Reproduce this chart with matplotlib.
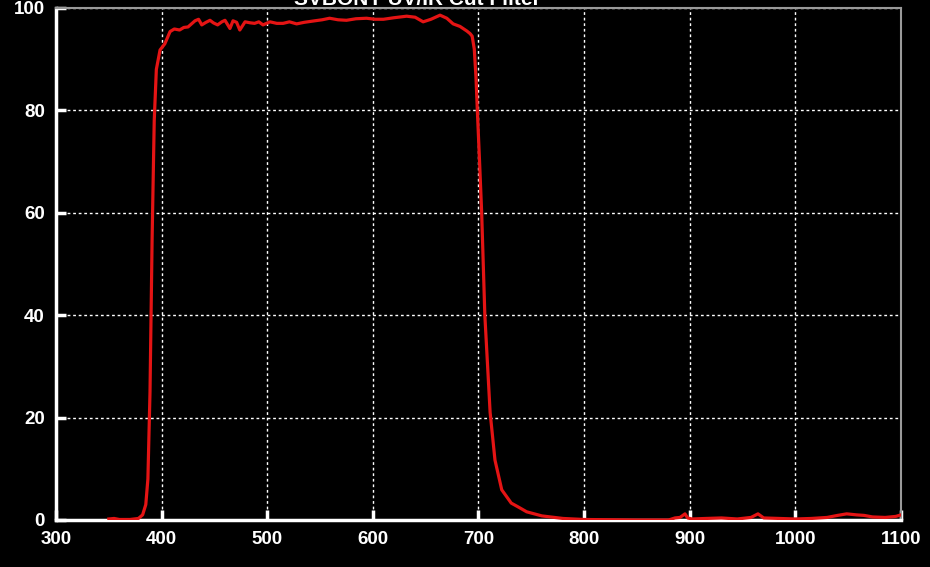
import numpy as np
import matplotlib.pyplot as plt

# =========================
# DATEN
# =========================
wellenlaenge = [350, 355, 360, 370, 378, 382, 385, 387, 389, 391, 393, 395, 398.5,
                403, 408, 412, 417, 421, 425, 431.6, 435, 438, 442, 445.8, 449, 453,
                457, 460, 464.7, 467.6, 471, 474, 479, 484, 488, 492, 496, 502.6,
                509, 515, 521, 527.8, 535, 545, 552, 559, 567, 575, 584, 594, 602,
                610, 620, 632, 640, 647.6, 655, 663.6, 670, 676, 682.5, 689, 692,
                694, 696, 697.6, 698.9, 701, 703, 706, 711, 715.6, 722, 731, 738,
                745.6, 760, 780, 800, 850, 880, 886, 890.8, 895.5, 898, 902, 915,
                930, 945, 958, 964.6, 970, 985, 1000, 1015, 1030, 1040, 1048.6,
                1058, 1065, 1073, 1085, 1095, 1100]
transmission = [0.2, 0.3, 0.1, 0.1, 0.3, 1.0, 3.0, 8.0, 25.0, 55.0, 78.0, 88.0, 91.8,
                93.0, 95.4, 95.9, 95.7, 96.2, 96.3, 97.5, 97.8, 96.7, 97.2, 97.6, 97.1,
                96.7, 97.3, 97.6, 96.0, 97.5, 97.2, 95.7, 97.3, 97.1, 97.0, 97.3,
                96.7, 97.3, 97.0, 97.0, 97.3, 96.9, 97.2, 97.5, 97.7, 98.0, 97.7,
                97.6, 97.9, 98.0, 97.8, 97.8, 98.1, 98.4, 98.2, 97.3, 97.8, 98.6,
                98.0, 96.9, 96.4, 95.5, 95.0, 94.5, 92.0, 86.5, 80.0, 70.0, 60.0,
                40.0, 21.0, 11.7, 5.9, 3.3, 2.5, 1.6, 0.8, 0.3, 0.1, 0.0, 0.0, 0.4,
                0.5, 1.2, 0.4, 0.2, 0.3, 0.4, 0.2, 0.5, 1.2, 0.4, 0.3, 0.2, 0.3, 0.5,
                0.9, 1.2, 1.0, 0.9, 0.6, 0.5, 0.7, 1.0]

titel = "SVBONY UV/IR Cut Filter"
x_ticks = [300, 400, 500, 600, 700, 800, 900, 1000, 1100]
y_ticks = [0, 20, 40, 60, 80, 100]

# =========================
# PLOT
# =========================
plt.rcParams['font.family'] = ['Liberation Sans Narrow', 'Liberation Sans', 'DejaVu Sans']

fig = plt.figure(figsize=(9.3, 5.67), dpi=100, facecolor='black')
ax = fig.add_axes([56 / 930, 1 - 520 / 567, 845 / 930, 512 / 567])
ax.set_facecolor('black')

ax.plot(wellenlaenge, transmission, color='#e41414', lw=2.3, zorder=3)

ax.set_xlim(300, 1100)
ax.set_ylim(0, 100)
ax.set_xticks(x_ticks)
ax.set_yticks(y_ticks)

ax.grid(True, color='white', linestyle=(0, (2, 2)), lw=1.0, zorder=1)

for seite in ['left', 'bottom']:
    ax.spines[seite].set_color('white')
    ax.spines[seite].set_linewidth(2.5)
for seite in ['top', 'right']:
    ax.spines[seite].set_color('#9a9a9a')
    ax.spines[seite].set_linewidth(1.5)

ax.tick_params(axis='both', direction='in', colors='white', length=7, width=2.5,
               labelsize=13.5, pad=8)
for lbl in ax.get_xticklabels() + ax.get_yticklabels():
    lbl.set_fontweight('bold')

# Titel ist oben abgeschnitten
fig.text(417 / 930, 1 - 5 / 567, titel, color='white', fontsize=15,
         fontweight='bold', ha='center', va='baseline',
         family=['Liberation Sans', 'DejaVu Sans'])

plt.savefig("out.png", dpi=100, facecolor='black')
plt.close()
